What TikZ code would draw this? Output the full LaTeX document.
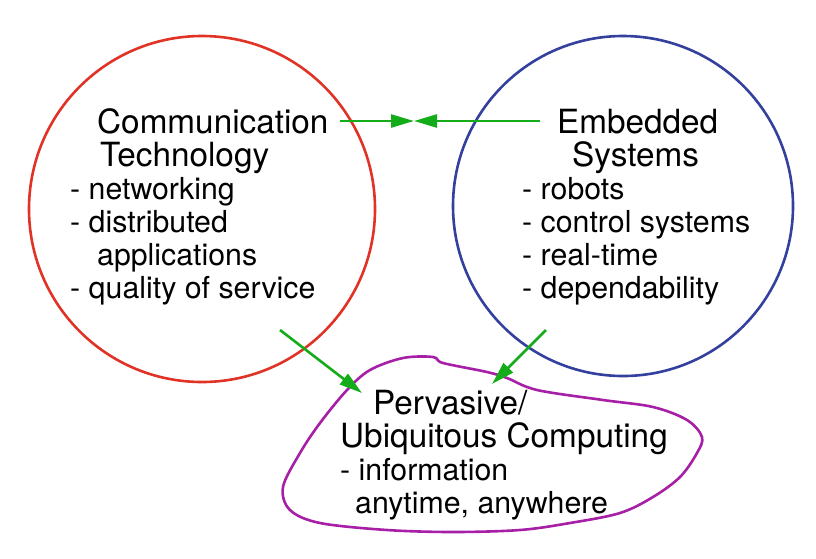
\documentclass[tikz,border=0pt]{standalone}
\usepackage{fontspec}
\setmainfont{TeX Gyre Heros}
\usetikzlibrary{arrows.meta}
\definecolor{ctred}{rgb}{0.88, 0.2, 0.15}
\definecolor{esblue}{rgb}{0.2, 0.25, 0.62}
\definecolor{pcpurple}{rgb}{0.65, 0.12, 0.65}
\definecolor{arrgreen}{rgb}{0.08, 0.68, 0.1}
\newcommand{\ttl}[1]{{\fontsize{33.3}{33}\selectfont #1}}
\tikzstyle{ring} = [circle,draw,line width=2.6pt,inner sep=0pt]
\tikzstyle{txt} = [anchor=base west,align=left,inner sep=0pt,font=\fontsize{30.3}{33}\selectfont]
\tikzstyle{link} = [draw=arrgreen,line width=2.6pt,-{Triangle[length=23pt,width=13pt]}]

\begin{document}
\begin{tikzpicture}[x=1pt,y=-1pt]
		\useasboundingbox (0,0) rectangle (816,558);
		\node [ring,draw=ctred,minimum size=346pt](ctc) at (202,209){};
		\node [ring,draw=esblue,minimum size=340pt](esc) at (623,206){};
		\draw[pcpurple,line width=2.6pt] plot[smooth cycle,tension=0.55] coordinates {
			(403,358) (433,357) (443,363) (487,372) (507,378) (537,390) (603,400)
			(653,407) (687,420) (702,437) (697,453) (680,477) (653,497) (620,513)
			(570,523) (520,530) (453,532) (387,530) (320,523) (290,510) (283,487)
			(300,453) (320,423) (347,390) (370,370)};
		
		% anchored at the baseline of the last line
		\node [txt](ct) at (70,298){\hspace{27pt}\ttl{Communication}\\\hspace{30pt}\ttl{Technology}\\- networking\\- distributed\\\hspace{27pt}applications\\- quality of service};
		\node [txt](es) at (522,298){\hspace{35pt}\ttl{Embedded}\\\hspace{50pt}\ttl{Systems}\\- robots\\- control systems\\- real-time\\- dependability};
		\node [txt](pc) at (340,513){\hspace{33pt}\ttl{Pervasive/}\\\ttl{Ubiquitous Computing}\\- information\\\hspace{15pt}anytime, anywhere};
		
		\coordinate (ctout) at (340,121);
		\coordinate (esout) at (540,121);
		\coordinate (mid) at (414,121);
		\coordinate (ctdown) at (280,330);
		\coordinate (esdown) at (546,330);
		\coordinate (pcleft) at (362,393);
		\coordinate (pcright) at (492,384);
		
		\draw[link](ctout)--(mid);
		\draw[link](esout)--(mid);
		\draw[link](ctdown)--(pcleft);
		\draw[link](esdown)--(pcright);
		\end{tikzpicture}
\end{document}
